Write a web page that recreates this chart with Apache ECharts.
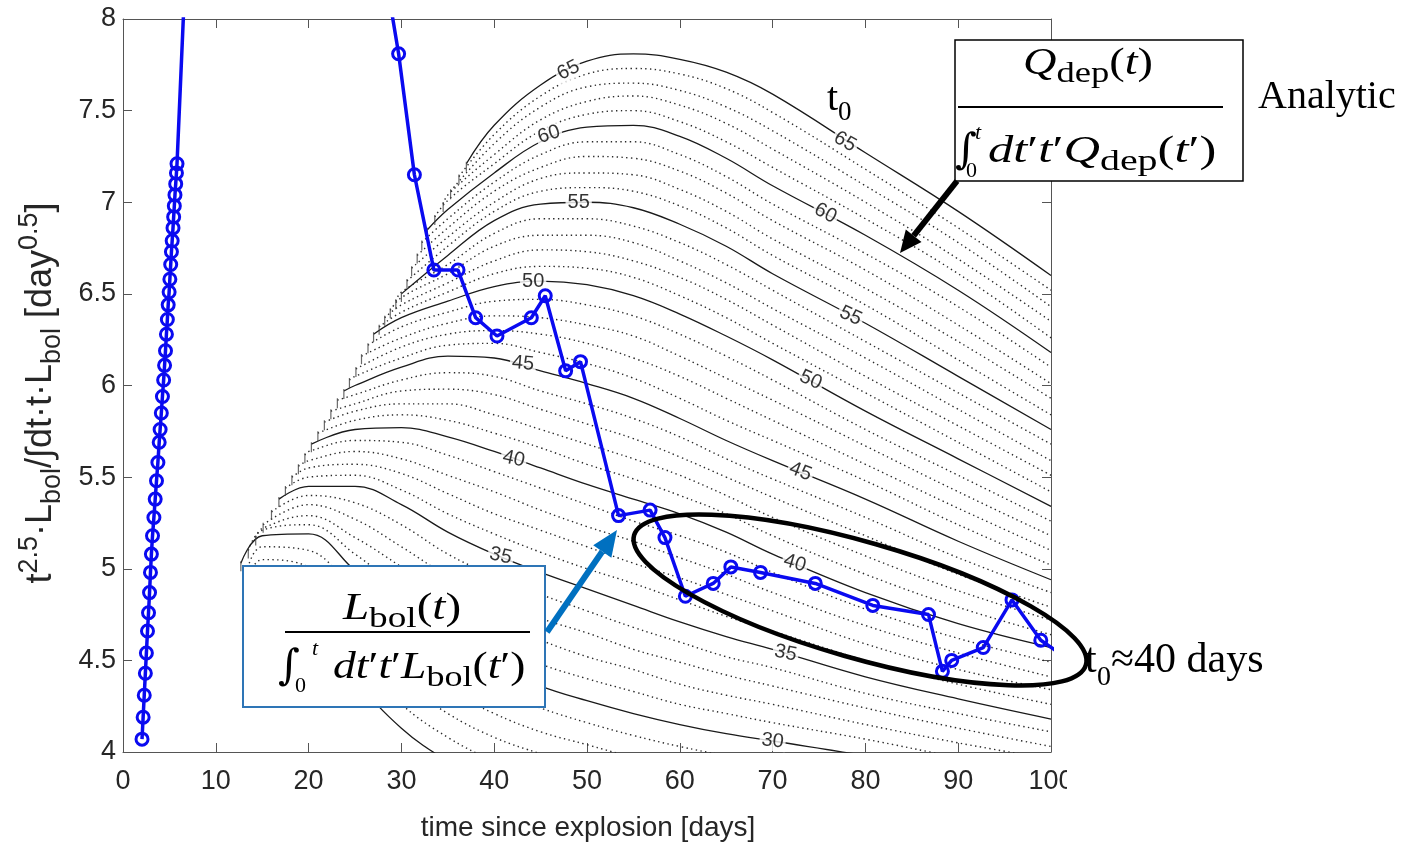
<!DOCTYPE html>
<html lang="en">
<head>
<meta charset="UTF-8">
<title>t0 fit</title>
<script src="https://cdn.jsdelivr.net/npm/echarts@6/dist/echarts.min.js"></script>
<style>
  html, body { margin: 0; padding: 0; background: #fff; }
  #main { width: 1420px; height: 850px; }
</style>
</head>
<body>
<div id="main"></div>
<script>
// days at which the analytic t0 curves were read
var gridDays = [15, 20, 25, 30, 35, 40, 45, 50, 55, 60, 65, 70, 80, 90, 100];
// t0 of each analytic curve (every 5th one is drawn solid)
var levels = [25,26,27,28,29,30,31,32,33,34,35,36,37,38,39,40,41,42,43,44,45,
              46,47,48,49,50,51,52,53,54,55,56,57,58,59,60,61,62,63,64,65];
// where each curve starts on the left envelope [day, value]
var curveStart = [
  [13.3,4.78],[13.3,4.83],[13.3,4.88],[13.3,4.93],[13.3,4.98],
  [12.7,5.03],[13.5,5.10],[14.3,5.17],[15.1,5.24],[16.0,5.31],
  [16.8,5.38],[17.5,5.44],[18.2,5.50],[18.9,5.56],[19.6,5.62],
  [20.3,5.68],[21.0,5.74],[21.7,5.80],[22.4,5.86],[23.1,5.92],
  [23.8,5.97],[24.4,6.03],[25.1,6.09],[25.7,6.16],[26.4,6.22],
  [27.0,6.28],[27.6,6.32],[28.2,6.37],[28.8,6.41],[29.4,6.46],
  [30.0,6.50],[30.6,6.57],[31.1,6.64],[31.7,6.71],[32.2,6.78],
  [32.8,6.85],[33.6,6.92],[34.5,6.99],[35.3,7.06],[36.2,7.14],
  [37.0,7.21]
];
// curve values on gridDays (null = curve not started yet)
var curveY = [
  [4.86,4.75,4.40,4.13,3.95,3.82,3.74,3.67,3.61,3.56,3.52,3.48,3.42,3.37,3.33], // 25
  [4.92,4.84,4.52,4.26,4.08,3.95,3.86,3.79,3.73,3.68,3.64,3.60,3.53,3.47,3.43],
  [4.99,4.93,4.64,4.39,4.21,4.08,3.99,3.91,3.85,3.80,3.75,3.71,3.64,3.58,3.52],
  [5.05,5.01,4.75,4.52,4.34,4.21,4.11,4.04,3.97,3.91,3.87,3.83,3.76,3.68,3.62],
  [5.12,5.10,4.87,4.65,4.47,4.34,4.24,4.16,4.09,4.03,3.98,3.94,3.87,3.79,3.71],
  [5.18,5.19,4.99,4.78,4.60,4.47,4.36,4.28,4.21,4.15,4.10,4.06,3.98,3.89,3.81], // 30
  [5.21,5.24,5.08,4.89,4.72,4.59,4.48,4.40,4.33,4.26,4.21,4.16,4.07,3.97,3.88],
  [5.22,5.29,5.17,5.01,4.84,4.71,4.61,4.52,4.45,4.37,4.31,4.26,4.15,4.05,3.96],
  [null,5.35,5.27,5.12,4.96,4.84,4.73,4.65,4.56,4.49,4.42,4.36,4.24,4.13,4.03],
  [null,5.40,5.36,5.24,5.08,4.96,4.86,4.77,4.68,4.60,4.52,4.46,4.32,4.21,4.11],
  [null,5.45,5.45,5.35,5.20,5.08,4.98,4.89,4.80,4.71,4.63,4.56,4.41,4.29,4.18], // 35
  [null,5.50,5.51,5.43,5.30,5.19,5.09,5.00,4.92,4.83,4.74,4.66,4.50,4.37,4.26],
  [null,5.55,5.57,5.52,5.41,5.30,5.21,5.12,5.03,4.95,4.86,4.77,4.59,4.45,4.34],
  [null,5.59,5.64,5.60,5.51,5.42,5.32,5.23,5.15,5.06,4.97,4.87,4.69,4.54,4.41],
  [null,5.64,5.70,5.69,5.62,5.53,5.44,5.35,5.26,5.18,5.09,4.98,4.78,4.62,4.49],
  [null,null,5.76,5.77,5.72,5.64,5.55,5.46,5.38,5.30,5.20,5.08,4.87,4.70,4.57], // 40
  [null,null,5.81,5.84,5.81,5.74,5.66,5.57,5.49,5.40,5.30,5.18,4.97,4.79,4.64],
  [null,null,5.86,5.90,5.90,5.84,5.76,5.68,5.60,5.51,5.40,5.28,5.07,4.88,4.72],
  [null,null,5.90,5.97,5.98,5.95,5.87,5.79,5.71,5.61,5.50,5.39,5.18,4.97,4.79],
  [null,null,5.95,6.03,6.07,6.05,5.97,5.90,5.82,5.72,5.60,5.49,5.28,5.06,4.87],
  [null,null,6.00,6.10,6.16,6.15,6.08,6.01,5.93,5.82,5.70,5.59,5.38,5.15,4.94], // 45
  [null,null,6.05,6.15,6.22,6.23,6.18,6.12,6.04,5.93,5.81,5.70,5.48,5.24,5.02],
  [null,null,null,6.21,6.28,6.30,6.28,6.23,6.15,6.05,5.93,5.81,5.57,5.33,5.10],
  [null,null,null,6.26,6.34,6.38,6.37,6.33,6.27,6.16,6.04,5.92,5.67,5.42,5.18],
  [null,null,null,6.32,6.40,6.46,6.47,6.44,6.38,6.28,6.16,6.03,5.76,5.51,5.26],
  [null,null,null,6.37,6.46,6.54,6.57,6.55,6.49,6.39,6.27,6.14,5.86,5.60,5.34], // 50
  [null,null,null,6.40,6.51,6.61,6.65,6.64,6.59,6.49,6.37,6.23,5.96,5.69,5.42],
  [null,null,null,6.44,6.56,6.68,6.74,6.73,6.68,6.59,6.47,6.33,6.05,5.78,5.51],
  [null,null,null,6.48,6.61,6.76,6.82,6.82,6.78,6.68,6.56,6.42,6.15,5.87,5.59],
  [null,null,null,6.51,6.66,6.83,6.91,6.91,6.87,6.78,6.66,6.52,6.24,5.96,5.68],
  [null,null,null,null,6.71,6.90,6.99,7.00,6.97,6.88,6.76,6.61,6.34,6.05,5.76], // 55
  [null,null,null,null,6.76,6.95,7.06,7.08,7.06,6.98,6.86,6.71,6.44,6.14,5.84],
  [null,null,null,null,6.81,7.00,7.13,7.16,7.15,7.07,6.95,6.80,6.53,6.24,5.93],
  [null,null,null,null,6.86,7.06,7.19,7.25,7.24,7.17,7.05,6.90,6.63,6.33,6.01],
  [null,null,null,null,6.91,7.11,7.26,7.33,7.33,7.26,7.14,6.99,6.72,6.43,6.10],
  [null,null,null,null,6.96,7.16,7.33,7.41,7.42,7.36,7.24,7.09,6.82,6.52,6.18], // 60
  [null,null,null,null,7.01,7.21,7.39,7.48,7.50,7.44,7.33,7.19,6.91,6.61,6.26],
  [null,null,null,null,7.04,7.26,7.45,7.55,7.58,7.53,7.43,7.29,7.00,6.69,6.35],
  [null,null,null,null,null,7.32,7.52,7.63,7.65,7.61,7.52,7.39,7.09,6.78,6.43],
  [null,null,null,null,null,7.37,7.58,7.70,7.73,7.70,7.62,7.49,7.18,6.86,6.52],
  [null,null,null,null,null,7.42,7.64,7.77,7.81,7.78,7.71,7.59,7.27,6.95,6.60]  // 65
];

// early-time data (the steep branch), last entry is where the line leaves the top
var earlyT = [2.05,2.17,2.29,2.41,2.52,2.64,2.75,2.86,2.96,3.06,3.18,3.33,3.47,3.61,3.76,3.90,4.00,4.13,4.25,
              4.38,4.48,4.58,4.68,4.78,4.87,4.97,5.05,5.14,5.22,5.30,5.39,5.46,5.53,5.60,5.68,5.76,5.82,6.60];
var earlyY = [4.07,4.19,4.31,4.43,4.54,4.66,4.76,4.87,4.98,5.08,5.18,5.28,5.38,5.48,5.58,5.69,5.76,5.85,5.94,
              6.03,6.11,6.19,6.28,6.36,6.44,6.51,6.58,6.66,6.73,6.79,6.86,6.92,6.98,7.04,7.10,7.16,7.21,8.12];
// later data, first entry enters from the top, last leaves on the right
var lateT = [28.75,29.7,31.4,33.5,36.1,38.0,40.3,44.0,45.5,47.7,49.3,53.4,56.8,58.4,60.6,63.6,65.5,68.7,
             74.6,80.8,86.8,88.3,89.3,92.7,95.8,98.9,101.2];
var lateY = [8.10,7.81,7.15,6.63,6.63,6.37,6.27,6.37,6.49,6.08,6.13,5.29,5.32,5.17,4.85,4.92,5.01,4.98,
             4.92,4.80,4.75,4.44,4.50,4.57,4.83,4.61,4.53];

// inline contour labels: level, where it sits on the curve
var labelLevel = [65, 65, 60, 60, 55, 55, 50, 50, 45, 45, 40, 40, 35, 35, 30];
var labelDay   = [48.0, 77.8, 45.9, 75.7, 49.1, 78.4, 44.2, 74.1, 43.1, 73.0, 42.1, 72.4, 40.7, 71.4, 70.0];
var labelVal   = [7.72, 7.33, 7.37, 6.94, 7.00, 6.38, 6.57, 6.03, 6.12, 5.53, 5.60, 5.03, 5.07, 4.54, 4.06];
var labelTilt  = [27, -30, 18, -27, 0, -25, 0, -24, -5, -21, -12, -17, -13, -12, -6];

var SERIF = "'Liberation Serif','DejaVu Serif',serif";
var SANS = "'Liberation Sans',Arial,sans-serif";
var INTEGRAL = "'DejaVu Serif','Liberation Serif',serif";
var BLUE = '#0a0af0';

var chart = echarts.init(document.getElementById('main'));

var series = [];
levels.forEach(function (t0, i) {
  var pts = [curveStart[i]];
  gridDays.forEach(function (d, j) {
    var v = curveY[i][j];
    if (v !== null && d > curveStart[i][0]) pts.push([d, v]);
  });
  var solid = t0 % 5 === 0;
  series.push({
    type: 'line', data: pts, symbol: 'none', smooth: 0.4,
    silent: true, z: 2, animation: false,
    lineStyle: solid ? { color: '#1a1a1a', width: 1.3 }
                     : { color: '#2a2a2a', width: 1.4, type: [1.4, 3.4] }
  });
});

// ragged contour ends along the envelope
series.push({
  type: 'scatter', data: curveStart, symbol: 'rect', symbolSize: [1.2, 10], symbolOffset: [0, 3],
  itemStyle: { color: '#444' }, silent: true, z: 2, animation: false
});

function blueData(ts, ys) {
  return ts.map(function (t, i) {
    var out = ys[i] > 8 || t > 100;
    return out ? { value: [t, ys[i]], symbol: 'none' } : [t, ys[i]];
  });
}
[ [earlyT, earlyY], [lateT, lateY] ].forEach(function (p) {
  series.push({
    type: 'line', data: blueData(p[0], p[1]), symbol: 'circle', symbolSize: 12,
    z: 5, animation: false, clip: true,
    lineStyle: { color: BLUE, width: 3.5 },
    itemStyle: { color: 'rgba(0,0,0,0)', borderColor: BLUE, borderWidth: 3 }
  });
});

series.push({
  type: 'scatter', z: 4, silent: true, symbolSize: 1, animation: false,
  itemStyle: { color: 'rgba(0,0,0,0)' },
  data: labelLevel.map(function (lv, i) {
    return { value: [labelDay[i], labelVal[i], lv], label: { rotate: labelTilt[i] } };
  }),
  label: {
    show: true, position: 'inside', formatter: function (p) { return String(p.value[2]); },
    fontFamily: SANS, fontSize: 20, color: '#000', textBorderWidth: 0,
    backgroundColor: '#fff', padding: [0, 2]
  }
});

function arrow(x1, y1, x2, y2, color, w, hl, hw) {
  var dx = x2 - x1, dy = y2 - y1, L = Math.sqrt(dx * dx + dy * dy);
  var ux = dx / L, uy = dy / L, bx = x2 - ux * hl, by = y2 - uy * hl;
  return [
    { type: 'line', z: 100, shape: { x1: x1, y1: y1, x2: bx, y2: by }, style: { stroke: color, lineWidth: w } },
    { type: 'polygon', z: 100, shape: { points: [[x2, y2], [bx - uy * hw, by + ux * hw], [bx + uy * hw, by - ux * hw]] },
      style: { fill: color } }
  ];
}

function mathRich(size, sub) {
  return {
    i: { fontFamily: SERIF, fontStyle: 'italic', fontSize: size, lineHeight: size * 1.3, verticalAlign: 'middle', fill: '#000' },
    r: { fontFamily: SERIF, fontSize: size, lineHeight: size * 1.3, verticalAlign: 'middle', fill: '#000' },
    s: { fontFamily: SERIF, fontSize: sub, lineHeight: sub * 1.05, verticalAlign: 'bottom', fill: '#000' }
  };
}
function mtext(str, x, y, size, sub, align, sx) {
  return { type: 'text', z: 101, x: x, y: y, scaleX: sx || 1,
    style: { text: str, rich: mathRich(size, sub), align: align || 'center', verticalAlign: 'middle' } };
}
function plain(str, x, y, size, family, align, style) {
  return { type: 'text', z: 101, x: x, y: y,
    style: { text: str, fontFamily: family, fontSize: size, fontStyle: style || 'normal', fill: '#000',
             align: align || 'left', verticalAlign: 'middle' } };
}

var graphic = [
  // analytic box
  { type: 'rect', z: 100, shape: { x: 955, y: 40, width: 288, height: 141 }, style: { fill: '#fff', stroke: '#000', lineWidth: 1.5 } },
  { type: 'line', z: 101, shape: { x1: 958, y1: 107, x2: 1223, y2: 107 }, style: { stroke: '#000', lineWidth: 2 } },
  mtext('{i|Q}{s|dep}{r|(}{i|t}{r|)}', 1088, 64, 38, 30, 'center', 1.22),
  plain('\u222B', 955, 152, 42, INTEGRAL),
  plain('t', 975, 133, 22, SERIF, 'left', 'italic'),
  plain('0', 966, 171, 22, SERIF),
  mtext('{i|dt}{r|\u2032}{i|t}{r|\u2032}{i|Q}{s|dep}{r|(}{i|t}{r|\u2032)}', 988, 152, 38, 30, 'left', 1.33),
  plain('Analytic', 1258, 97, 40, SERIF),
  plain('t', 827, 99, 40, SERIF),
  plain('0', 838, 113, 27, SERIF),
  // luminosity box
  { type: 'rect', z: 100, shape: { x: 243, y: 566, width: 302, height: 141 }, style: { fill: '#fff', stroke: '#2e75b6', lineWidth: 2 } },
  { type: 'line', z: 101, shape: { x1: 285, y1: 632, x2: 530, y2: 632 }, style: { stroke: '#000', lineWidth: 2 } },
  mtext('{i|L}{s|bol}{r|(}{i|t}{r|)}', 402, 609, 38, 30, 'center', 1.24),
  plain('\u222B', 278, 668, 42, INTEGRAL),
  plain('t', 312, 649, 22, SERIF, 'left', 'italic'),
  plain('0', 295, 686, 22, SERIF),
  mtext('{i|dt}{r|\u2032}{i|t}{r|\u2032}{i|L}{s|bol}{r|(}{i|t}{r|\u2032)}', 333, 668, 38, 30, 'left', 1.2),
  // t0 ~ 40 days ellipse and text
  { type: 'ellipse', z: 102, x: 860, y: 600, rotation: -16 * Math.PI / 180,
    shape: { cx: 0, cy: 0, rx: 235, ry: 58 }, style: { fill: 'transparent', stroke: '#000', lineWidth: 4.5 } },
  plain('t', 1085, 661, 42, SERIF),
  plain('0', 1097, 678, 28, SERIF),
  plain('\u224840 days', 1111, 661, 42, SERIF),
  { type: 'rect', z: 100, shape: { x: 1067, y: 770, width: 30, height: 30 }, style: { fill: '#fff' } },
  // axis titles
  { type: 'text', z: 101, x: 588, y: 828,
    style: { text: 'time since explosion [days]', fontFamily: SANS, fontSize: 28, fill: '#262626', align: 'center', verticalAlign: 'middle' } },
  { type: 'text', z: 101, x: 41, y: 393, rotation: Math.PI / 2,
    style: { text: '{b|t}{p|2.5}{b|\u00B7L}{q|bol}{b|/\u222Bdt\u00B7t\u00B7L}{q|bol}{b| [day}{p|0.5}{b|]}',
      align: 'center', verticalAlign: 'middle',
      rich: {
        b: { fontFamily: SANS, fontSize: 36, lineHeight: 50, verticalAlign: 'middle', fill: '#262626' },
        p: { fontFamily: SANS, fontSize: 27, lineHeight: 27, verticalAlign: 'top', fill: '#262626' },
        q: { fontFamily: SANS, fontSize: 27, lineHeight: 27, verticalAlign: 'bottom', fill: '#262626' }
      } } }
];
graphic = graphic.concat(arrow(957, 181, 900, 253, '#000', 6, 22, 10));
graphic = graphic.concat(arrow(547, 632, 617, 530, '#0070c0', 6, 26, 11));

var axisCommon = {
  type: 'value', axisLine: { show: true, onZero: false, lineStyle: { color: '#555', width: 1 } },
  axisTick: { show: true, inside: true, length: 9, lineStyle: { color: '#555' } },
  splitLine: { show: false }
};
function ax(extra) { return Object.assign({}, axisCommon, extra); }

chart.setOption({
  animation: false,
  backgroundColor: '#fff',
  grid: { left: 123, right: 369, top: 19, bottom: 98 },
  xAxis: [
    ax({ min: 0, max: 100, interval: 10, position: 'bottom',
         axisLabel: { fontFamily: SANS, fontSize: 27, color: '#262626', margin: 16 } }),
    ax({ min: 0, max: 100, interval: 10, position: 'top', axisLabel: { show: false } })
  ],
  yAxis: [
    ax({ min: 4, max: 8, interval: 0.5, position: 'left',
         axisLabel: { fontFamily: SANS, fontSize: 27, color: '#262626', margin: 7 } }),
    ax({ min: 4, max: 8, interval: 0.5, position: 'right', axisLabel: { show: false } })
  ],
  series: series,
  graphic: graphic
});
</script>
</body>
</html>
